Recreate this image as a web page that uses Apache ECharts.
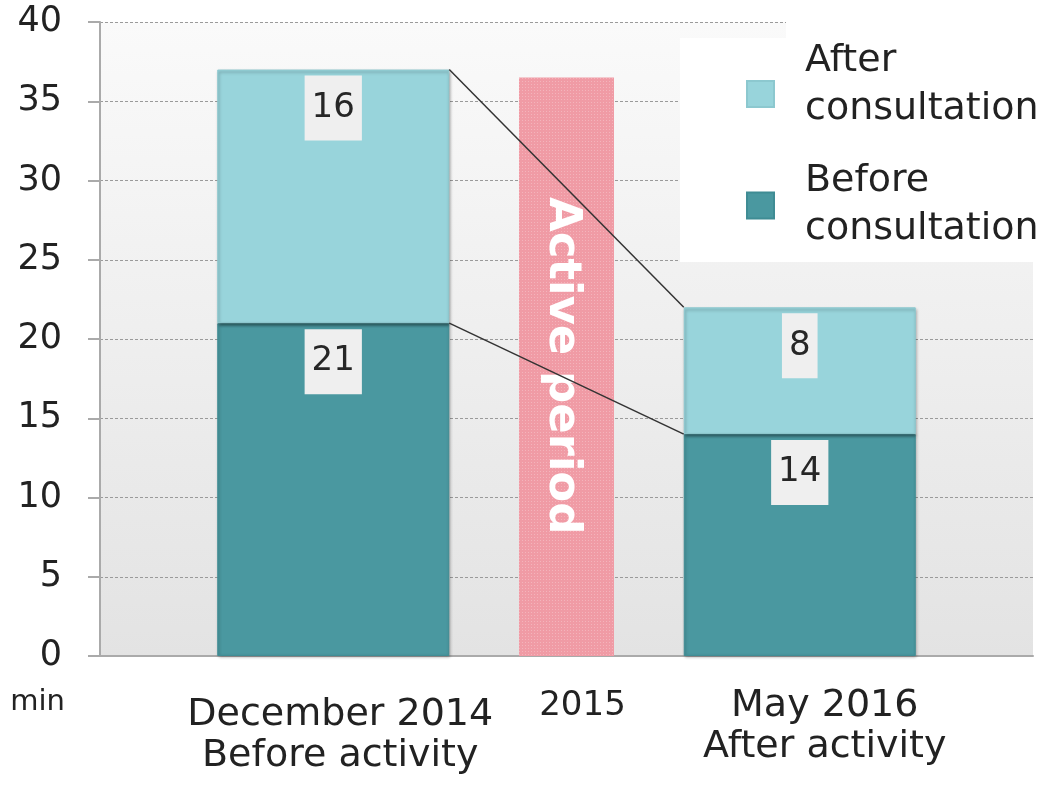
<!DOCTYPE html>
<html>
<head>
<meta charset="utf-8">
<script src="https://cdn.jsdelivr.net/npm/echarts/dist/echarts.min.js"></script>
<style>
  html, body { margin: 0; padding: 0; background: #fff; }
  #chart { width: 1043px; height: 785px; }
</style>
</head>
<body>
<div id="chart"></div>
<script>
// Waiting time per visit (minutes), before and after the improvement activity
const categories = ['', 'December 2014\nBefore activity', '2015', 'May 2016\nAfter activity', ''];
const beforeConsultation = ['-', 21, '-', 14, '-'];
const afterConsultation = ['-', 16, '-', 8, '-'];
const activePeriod = ['-', '-', 36.5, '-', '-'];
const yMin = 0, yMax = 40, yStep = 5;
const seriesNames = ['Before consultation', 'After consultation'];
const periodLabel = 'Active period';
const unitLabel = 'min';

const FONT = 'DejaVu Sans';
const BAR_W = 232;
const PERIOD_W = 95;

const totalAt = i => beforeConsultation[i] + afterConsultation[i];
const first = 1, last = 3;
const connectors = [
  [first, totalAt(first), last, totalAt(last)],
  [first, beforeConsultation[first], last, beforeConsultation[last]]
];

const valueLabel = {
  show: true,
  position: 'insideTop',
  distance: 6,
  formatter: '{c}',
  fontFamily: FONT,
  fontSize: 34,
  lineHeight: 41,
  color: '#262626',
  backgroundColor: '#efefef',
  padding: [12, 7, 12, 7]
};

const chart = echarts.init(document.getElementById('chart'));
chart.setOption({
  animation: false,
  textStyle: { fontFamily: FONT },
  grid: {
    left: 100, right: 10, top: 22, bottom: 129,
    show: true,
    borderWidth: 0,
    backgroundColor: {
      type: 'linear', x: 0, y: 0, x2: 0, y2: 1,
      colorStops: [{ offset: 0, color: '#fafafa' }, { offset: 1, color: '#e3e3e3' }]
    }
  },
  graphic: [
    { type: 'rect', z: 1, shape: { x: 680, y: 38, width: 363, height: 224 }, style: { fill: '#ffffff' } },
    { type: 'rect', z: 1, shape: { x: 786, y: 0, width: 257, height: 40 }, style: { fill: '#ffffff' } }
  ],
  legend: {
    orient: 'vertical',
    left: 741,
    top: 37,
    icon: 'rect',
    itemWidth: 27,
    itemHeight: 26,
    itemGap: 20,
    data: [seriesNames[1], seriesNames[0]],
    formatter: name => {
      const parts = name.split(' ');
      const text = '{t|' + parts[0] + '}\n{t|' + parts[1] + '}';
      // the upper entry sits a little higher relative to its swatch
      return name === seriesNames[1] ? text + '\n{s| }' : text;
    },
    textStyle: {
      padding: [0, 0, 0, 26],
      rich: {
        t: { fontFamily: FONT, fontSize: 38, lineHeight: 48, color: '#222' },
        s: { fontSize: 1, lineHeight: 18 }
      }
    }
  },
  xAxis: [
    {
      type: 'category',
      data: categories,
      boundaryGap: false,
      axisLine: { lineStyle: { color: '#aaaaaa', width: 2 } },
      axisTick: { show: false },
      splitLine: { show: false },
      axisLabel: {
        interval: 0,
        margin: 30,
        color: '#222',
        formatter: (value, index) => {
          if (!value) return '';
          const lines = value.split('\n');
          if (index === 1) return '{sp| }\n{d|' + lines[0] + '}\n{d|' + lines[1] + '}';
          if (index === 2) return '{yr|' + lines[0] + '}';
          return '{m|' + lines[0] + '}\n{m|' + lines[1] + '}';
        },
        rich: {
          sp: { fontSize: 1, lineHeight: 9 },
          d: { fontFamily: FONT, fontSize: 38, lineHeight: 41, color: '#222', padding: [0, 0, 0, 14] },
          yr: { fontFamily: FONT, fontSize: 34, lineHeight: 41, color: '#222', padding: [0, 0, 0, 32] },
          m: { fontFamily: FONT, fontSize: 38, lineHeight: 41, color: '#222', padding: [0, 0, 0, 50] }
        }
      }
    },
    {
      type: 'category',
      data: categories,
      boundaryGap: false,
      show: false
    }
  ],
  yAxis: {
    type: 'value',
    min: yMin, max: yMax, interval: yStep,
    name: unitLabel,
    nameLocation: 'start',
    nameGap: 46,
    nameTextStyle: {
      fontFamily: FONT, fontSize: 29, color: '#222',
      align: 'right', verticalAlign: 'middle', padding: [0, 35, 0, 0]
    },
    axisLine: { show: true, lineStyle: { color: '#aaaaaa', width: 2 } },
    axisTick: { show: true, length: 12, lineStyle: { color: '#aaaaaa', width: 2 } },
    axisLabel: { fontFamily: FONT, fontSize: 35, color: '#222', margin: 38 },
    splitLine: { lineStyle: { color: '#9a9a9a', width: 1, type: [3, 2] } }
  },
  series: [
    {
      name: seriesNames[0],
      type: 'bar',
      stack: 'visit',
      barWidth: BAR_W,
      data: beforeConsultation,
      itemStyle: {
        color: '#4a98a0',
        borderColor: '#3f8c94',
        borderWidth: 1,
        shadowColor: 'rgba(0,0,0,0.3)',
        shadowBlur: 3,
        shadowOffsetX: 1,
        shadowOffsetY: 1
      },
      label: valueLabel,
      z: 3
    },
    {
      name: seriesNames[1],
      type: 'bar',
      stack: 'visit',
      barWidth: BAR_W,
      data: afterConsultation,
      itemStyle: {
        color: '#98d4db',
        borderColor: '#8cc8cf',
        borderWidth: 1,
        shadowColor: 'rgba(0,0,0,0.35)',
        shadowBlur: 3,
        shadowOffsetX: 1,
        shadowOffsetY: 2
      },
      label: valueLabel,
      z: 4
    },
    {
      name: periodLabel,
      type: 'bar',
      xAxisIndex: 1,
      barWidth: PERIOD_W,
      data: activePeriod,
      itemStyle: {
        color: '#f09ba5',
        decal: {
          symbol: 'rect',
          symbolSize: 1,
          dashArrayX: [1, 2],
          dashArrayY: [1, 2],
          color: 'rgba(255,255,255,0.25)'
        }
      },
      label: {
        show: true,
        position: 'inside',
        rotate: -90,
        offset: [-1, 5],
        formatter: periodLabel,
        fontFamily: FONT,
        fontSize: 45,
        fontWeight: 'bold',
        color: '#ffffff'
      },
      z: 2
    },
    {
      type: 'custom',
      name: 'connectors',
      xAxisIndex: 0,
      data: connectors,
      encode: { x: [0, 2], y: [1, 3] },
      renderItem: (params, api) => {
        const a = api.coord([api.value(0), api.value(1)]);
        const b = api.coord([api.value(2), api.value(3)]);
        return {
          type: 'line',
          shape: { x1: a[0] + BAR_W / 2, y1: a[1], x2: b[0] - BAR_W / 2, y2: b[1] },
          style: { stroke: '#333333', lineWidth: 1.5 }
        };
      },
      z: 6
    }
  ]
});
</script>
</body>
</html>
